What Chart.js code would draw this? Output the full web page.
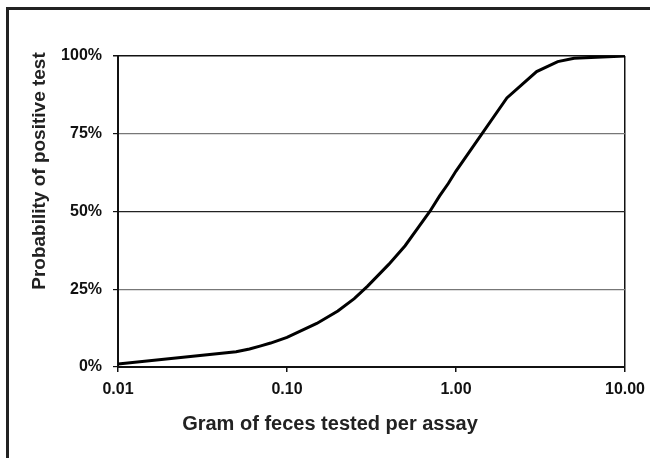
<!DOCTYPE html>
<html lang="en">
<head>
<meta charset="UTF-8">
<title>Probability of positive test</title>
<script src="https://cdn.jsdelivr.net/npm/chart.js"></script>
<style>
  body { margin: 0; background: #fff; }
  #wrap { position: relative; width: 650px; height: 458px; }
  #frame { position: absolute; left: 6px; top: 7px; right: 0; bottom: 0;
           border-left: 3px solid #222; border-top: 3px solid #222; }
  canvas { position: absolute; left: 0; top: 0; }
</style>
</head>
<body>
<div id="wrap">
  <div id="frame"></div>
  <canvas id="probChart" width="650" height="458"></canvas>
</div>

<script>
// grams of feces per assay and probability of a positive test (%)
const grams = [0.01, 0.05, 0.06, 0.07, 0.08, 0.1, 0.15, 0.2, 0.25, 0.3, 0.4, 0.5, 0.6, 0.7, 0.8, 0.9, 1, 2, 3, 4, 5, 10];
const probPct = [1, 4.9, 5.8, 6.8, 7.7, 9.5, 14, 18, 22, 26, 33, 39, 45, 50, 55, 59, 63, 86.5, 95, 98.2, 99.3, 100];

const xTicks = [0.01, 0.1, 1, 10];
const xTickLabels = ['0.01', '0.10', '1.00', '10.00'];
const yTicks = [0, 25, 50, 75, 100];
const yTickLabels = ['0%', '25%', '50%', '75%', '100%'];

const xTitle = 'Gram of feces tested per assay';
const yTitle = 'Probability of positive test';

const FONT = '"Liberation Sans", Arial, sans-serif';

// axis titles sit off-centre in the original, so draw them by hand
const axisTitles = {
    id: 'axisTitles',
    afterDraw(chart) {
        const c = chart.ctx;
        c.save();
        c.fillStyle = '#222';
        c.textAlign = 'center';
        c.textBaseline = 'middle';
        c.font = 'bold 20px ' + FONT;
        c.fillText(xTitle, 330, 424);
        c.translate(40, 171);
        c.rotate(-Math.PI / 2);
        c.font = 'bold 19px ' + FONT;
        c.fillText(yTitle, 0, 0);
        c.restore();
    }
};

const ctx = document.getElementById('probChart').getContext('2d');
new Chart(ctx, {
    type: 'line',
    data: {
        datasets: [{
            data: grams.map((g, i) => ({ x: g, y: probPct[i] })),
            borderColor: '#000',
            borderWidth: 3,
            tension: 0,
            pointRadius: 0,
            fill: false
        }]
    },
    options: {
        responsive: false,
        animation: false,
        layout: { padding: { left: 0, right: 25, top: 56, bottom: 0 } },
        plugins: { legend: { display: false }, tooltip: { enabled: false }, title: { display: false } },
        scales: {
            x: {
                type: 'logarithmic',
                min: 0.01, max: 10,
                afterFit: s => { s.height = 91; s.paddingLeft = 0; s.paddingRight = 0; },
                afterBuildTicks: s => { s.ticks = xTicks.map(v => ({ value: v })); },
                border: { display: true, color: '#111', width: 2 },
                grid: {
                    drawOnChartArea: true,
                    color: c => (c.tick && c.tick.value === 10) ? '#111' : 'rgba(0,0,0,0)',
                    lineWidth: 1.5,
                    tickColor: '#111',
                    tickLength: 5
                },
                ticks: {
                    autoSkip: false,
                    maxRotation: 0,
                    padding: 8,
                    color: '#111',
                    font: { family: FONT, size: 16, weight: 'bold' },
                    callback: v => xTickLabels[xTicks.indexOf(v)]
                }
            },
            y: {
                min: 0, max: 100,
                afterFit: s => { s.width = 118; s.paddingTop = 0; s.paddingBottom = 0; },
                afterBuildTicks: s => { s.ticks = yTicks.map(v => ({ value: v })); },
                border: { display: true, color: '#111', width: 2 },
                grid: {
                    color: c => {
                        const v = c.tick ? c.tick.value : 0;
                        if (v === 100) return '#111';
                        if (v === 50) return '#222';
                        return '#777';
                    },
                    lineWidth: c => (c.tick && c.tick.value === 100) ? 1.5 : 1.2,
                    tickColor: '#111',
                    tickLength: 5
                },
                ticks: {
                    padding: 11,
                    color: '#111',
                    font: { family: FONT, size: 16, weight: 'bold' },
                    callback: v => yTickLabels[yTicks.indexOf(v)]
                }
            }
        }
    },
    plugins: [axisTitles]
});
</script>
</body>
</html>
